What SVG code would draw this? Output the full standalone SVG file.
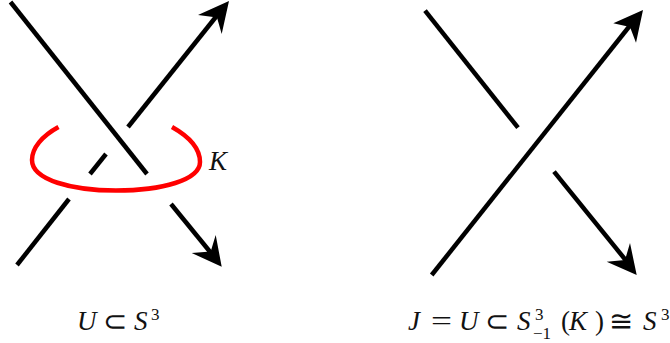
<svg xmlns="http://www.w3.org/2000/svg" width="670" height="343" viewBox="0 0 670 343">
<style>
.s{fill:none;stroke:#000;stroke-width:4.5}
.h{fill:#000;stroke:none}
.r{fill:none;stroke:#f00;stroke-width:4.5}
text{font-family:"Liberation Serif","Times New Roman",serif;fill:#111}
.m{font-style:italic;font-size:27px}
.n{font-size:27px}
.y{font-size:29px}
.u{font-size:17px}
</style>
<rect width="670" height="343" fill="#fff"/>
<g id="left-knot">
<path class="s" d="M10.500 2L147 174"/>
<path class="s" d="M128 127L219 13"/>
<path class="s" d="M90 174L106 154"/>
<path class="s" d="M17 265L69 199"/>
<path class="s" d="M171 204L211 253"/>
<path class="h" d="M229 1L221.700 34L217 17.500L198 15Z"/>
<path class="h" d="M221.700 266.700L191.700 253L210.700 251.500L215.700 235Z"/>
</g>
<g id="red-loop">
<path class="r" d="M58.500 127C42 136 32 148 32 160C32 180 72 190.500 116 190.500C162 190.500 200 180 200 162C200 148 188 136 172 127"/>
</g>
<g id="right-knot">
<path class="s" d="M425 10.700L518 127.700"/>
<path class="s" d="M431.700 275L632 23"/>
<path class="s" d="M554 171.700L626 260.500"/>
<path class="h" d="M643 10L636 42.700L630 27L613.300 23.300Z"/>
<path class="h" d="M636.700 275L606.700 261.700L625 260L630 243Z"/>
</g>
<g id="labels">
<text class="m" x="209" y="170">K</text>
<text class="m" x="77" y="330">U</text>
<text class="y" x="103" y="331">⊂</text>
<text class="m" x="134" y="330">S</text>
<text class="u" x="151" y="320">3</text>
<text class="m" x="408" y="330">J</text>
<text class="n" x="431" y="330" textLength="21" lengthAdjust="spacingAndGlyphs">=</text>
<text class="m" x="459" y="330">U</text>
<text class="y" x="485" y="331">⊂</text>
<text class="m" x="517" y="330">S</text>
<text class="u" x="535" y="320">3</text>
<text class="u" x="533" y="339">−1</text>
<text class="n" x="561" y="330">(</text>
<text class="m" x="569" y="330">K</text>
<text class="n" x="595" y="330">)</text>
<text class="y" x="609" y="331">≅</text>
<text class="m" x="643" y="330">S</text>
<text class="u" x="661" y="320">3</text>
</g>
</svg>
